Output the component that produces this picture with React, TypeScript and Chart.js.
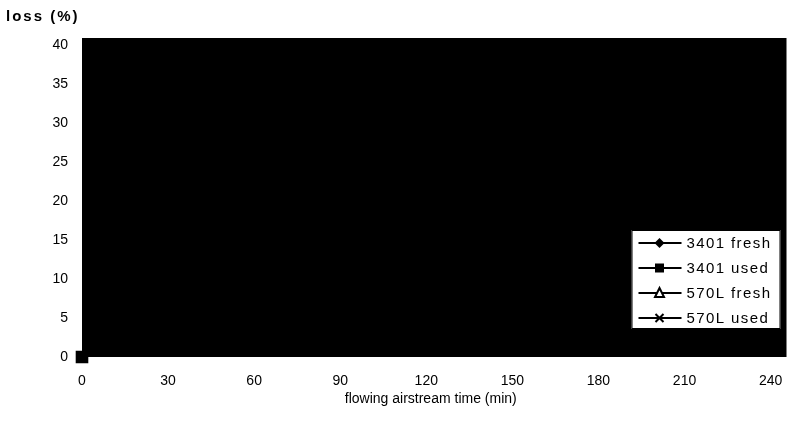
import React, { useEffect, useRef } from "react";
import { Chart, registerables } from "chart.js";

Chart.register(...registerables);

const times = [0, 30, 60, 90, 120, 150, 180, 210, 240];
const fresh3401 = [0, 3, 5, 6.5, 7.5, 8.5, 9, 9.5, 10];
const used3401 = [0, 2, 3.5, 4.5, 5.5, 6, 6.5, 7, 7.5];
const fresh570L = [0, 4, 6.5, 8, 9.5, 10.5, 11.5, 12, 12.5];
const used570L = [0, 2.5, 4, 5, 6, 7, 7.5, 8, 8.5];
const seriesLabels = ["3401 fresh", "3401 used", "570L fresh", "570L used"];
const xTicks = [0, 30, 60, 90, 120, 150, 180, 210, 240];
const yTicks = [0, 5, 10, 15, 20, 25, 30, 35, 40];

const pointStyles = ["rectRot", "rect", "triangle", "crossRot"];
const pointRadii = [4, 7.5, 4, 4];
const FONT = "'Liberation Sans', Arial, sans-serif";

function drawMarker(ctx: CanvasRenderingContext2D, style: string, x: number, y: number) {
  ctx.save();
  ctx.fillStyle = "#000";
  ctx.strokeStyle = "#000";
  ctx.lineWidth = 2;
  ctx.beginPath();
  if (style === "rectRot") {
    ctx.moveTo(x, y - 5);
    ctx.lineTo(x + 5, y);
    ctx.lineTo(x, y + 5);
    ctx.lineTo(x - 5, y);
    ctx.closePath();
    ctx.fill();
  } else if (style === "rect") {
    ctx.rect(x - 4.5, y - 4.5, 9, 9);
    ctx.fill();
  } else if (style === "triangle") {
    ctx.moveTo(x, y - 5);
    ctx.lineTo(x + 4.5, y + 4);
    ctx.lineTo(x - 4.5, y + 4);
    ctx.closePath();
    ctx.fillStyle = "#fff";
    ctx.fill();
    ctx.stroke();
  } else {
    ctx.moveTo(x - 4, y - 4);
    ctx.lineTo(x + 4, y + 4);
    ctx.moveTo(x + 4, y - 4);
    ctx.lineTo(x - 4, y + 4);
    ctx.stroke();
  }
  ctx.restore();
}

const decorPlugin = {
  id: "decor",
  beforeDatasetsDraw(chart: any) {
    const { ctx, chartArea } = chart;
    ctx.save();
    ctx.fillStyle = "#000";
    ctx.fillRect(chartArea.left, chartArea.top, chartArea.right + 7 - chartArea.left, chartArea.bottom - chartArea.top);
    ctx.restore();
  },
  afterDraw(chart: any) {
    const { ctx, chartArea } = chart;
    ctx.save();
    ctx.fillStyle = "#000";
    ctx.font = "bold 15px " + FONT;
    (ctx as any).letterSpacing = "2px";
    ctx.textAlign = "left";
    ctx.textBaseline = "middle";
    ctx.fillText("loss (%)", 6, 17);

    const w = 149;
    const h = 99;
    const bx = chartArea.right + 1 - w;
    const by = chartArea.bottom - 28 - h;
    ctx.fillStyle = "#fff";
    ctx.fillRect(bx, by, w, h);
    ctx.strokeStyle = "#000";
    ctx.lineWidth = 1;
    ctx.strokeRect(bx + 0.5, by + 0.5, w - 1, h - 1);
    ctx.font = "15px " + FONT;
    (ctx as any).letterSpacing = "1.4px";
    chart.data.datasets.forEach((ds: any, i: number) => {
      const y = by + 13 + i * 25;
      ctx.strokeStyle = "#000";
      ctx.lineWidth = 2;
      ctx.beginPath();
      ctx.moveTo(bx + 7, y);
      ctx.lineTo(bx + 50, y);
      ctx.stroke();
      drawMarker(ctx, pointStyles[i], bx + 28, y);
      ctx.fillStyle = "#000";
      ctx.textAlign = "left";
      ctx.textBaseline = "middle";
      ctx.fillText(ds.label, bx + 55, y + 1);
    });
    ctx.restore();
  },
};

export default function App() {
  const ref = useRef<HTMLCanvasElement>(null);
  useEffect(() => {
    if (!ref.current) return;
    const series = [fresh3401, used3401, fresh570L, used570L];
    const chart = new Chart(ref.current, {
      type: "line",
      data: {
        datasets: series.map((s, i) => ({
          label: seriesLabels[i],
          data: times.map((t, j) => ({ x: t, y: s[j] })),
          borderColor: "#000",
          backgroundColor: "#000",
          borderWidth: 2,
          pointStyle: pointStyles[i] as any,
          pointRadius: pointRadii[i],
          pointBackgroundColor: "#000",
          pointBorderColor: "#000",
          order: i === 1 ? 0 : 1,
          clip: false as any,
        })),
      },
      options: {
        animation: false,
        responsive: false,
        layout: { padding: { left: 0, right: 0, top: 38, bottom: 0 } },
        plugins: { legend: { display: false }, tooltip: { enabled: false } },
        scales: {
          x: {
            type: "linear",
            min: 0,
            max: 243.1,
            grid: { display: false, drawTicks: false },
            border: { display: false },
            afterFit: (s: any) => { s.height = 64; s.paddingLeft = 0; s.paddingRight = 0; },
            afterBuildTicks: (s: any) => { s.ticks = xTicks.map((v) => ({ value: v })); },
            ticks: {
              padding: 16,
              color: "#000",
              maxRotation: 0,
              autoSkip: false,
              font: { family: FONT, size: 14 },
            },
            title: {
              display: true,
              text: "flowing airstream time (min)",
              color: "#000",
              padding: { top: 2, bottom: 13 },
              font: { family: FONT, size: 14 },
            },
          },
          y: {
            type: "linear",
            min: 0,
            max: 40.9,
            grid: { display: false, drawTicks: false },
            border: { display: false },
            afterFit: (s: any) => { s.width = 82; s.paddingTop = 0; s.paddingBottom = 0; },
            afterBuildTicks: (s: any) => { s.ticks = yTicks.map((v) => ({ value: v })); },
            ticks: {
              padding: 14,
              color: "#000",
              autoSkip: false,
              font: { family: FONT, size: 14 },
            },
          },
        },
      },
      plugins: [decorPlugin],
    });
    return () => chart.destroy();
  }, []);
  return (
    <div style={{ position: "fixed", left: 0, top: 0, width: 789, height: 421, background: "#fff" }}>
      <canvas ref={ref} width={789} height={421} />
    </div>
  );
}
